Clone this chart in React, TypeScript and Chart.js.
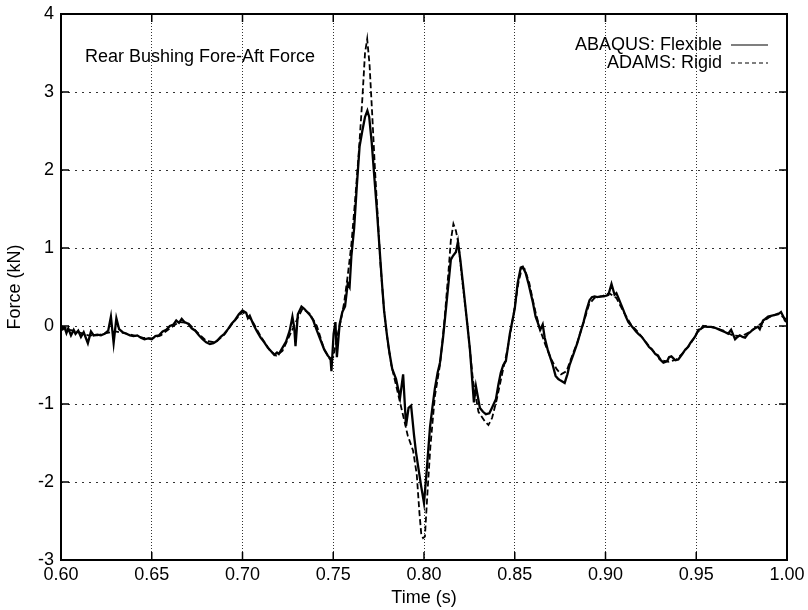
import React, { useEffect, useRef } from "react";
import { Chart, registerables } from "chart.js";

Chart.register(...registerables);

const FONT = '"Liberation Sans", Arial, Helvetica, sans-serif';

const chartTitle = "Rear Bushing Fore-Aft Force";
const seriesLabels = ["ABAQUS: Flexible", "ADAMS: Rigid"];
const xAxisTitle = "Time (s)";
const yAxisTitle = "Force (kN)";

const xTickValues = [0.6, 0.65, 0.7, 0.75, 0.8, 0.85, 0.9, 0.95, 1.0];
const xTickLabels = ["0.60", "0.65", "0.70", "0.75", "0.80", "0.85", "0.90", "0.95", "1.00"];
const yTickValues = [-3, -2, -1, 0, 1, 2, 3, 4];
const yTickLabels = ["-3", "-2", "-1", "0", "1", "2", "3", "4"];

const abaqusTime = [
  0.6, 0.601, 0.602, 0.603, 0.604, 0.6055, 0.607, 0.608, 0.6095, 0.611, 0.6125, 0.6148, 0.6165, 0.618, 0.62,
  0.622, 0.624, 0.626, 0.6275, 0.629, 0.6305, 0.632, 0.634, 0.636, 0.638, 0.64, 0.642, 0.644, 0.646, 0.648,
  0.65, 0.652, 0.654, 0.656, 0.658, 0.66, 0.662, 0.6635, 0.665, 0.6665, 0.668, 0.67, 0.672, 0.674, 0.676,
  0.678, 0.68, 0.682, 0.684, 0.686, 0.688, 0.69, 0.692, 0.694, 0.696, 0.698, 0.7, 0.702, 0.703, 0.704,
  0.706, 0.708, 0.71, 0.712, 0.714, 0.716, 0.7175, 0.719, 0.72, 0.722, 0.724, 0.726, 0.7275, 0.7285, 0.7292,
  0.7305, 0.7325, 0.734, 0.736, 0.7375, 0.739, 0.741, 0.743, 0.745, 0.747, 0.7485, 0.749, 0.7502, 0.7512, 0.752,
  0.7535, 0.755, 0.7565, 0.758, 0.759, 0.76, 0.7615, 0.763, 0.7645, 0.766, 0.7675, 0.7688, 0.7698, 0.7712, 0.7725,
  0.774, 0.7755, 0.777, 0.778, 0.7795, 0.781, 0.7825, 0.7846, 0.7868, 0.7885, 0.7901, 0.7915, 0.7929, 0.7945, 0.7956,
  0.7984, 0.8, 0.8015, 0.8033, 0.8046, 0.806, 0.8075, 0.8088, 0.8105, 0.8121, 0.8135, 0.8148, 0.816, 0.8176, 0.8187,
  0.82, 0.8214, 0.8235, 0.8253, 0.8275, 0.8286, 0.8308, 0.8325, 0.8341, 0.836, 0.8374, 0.8396, 0.841, 0.8423, 0.8437,
  0.8451, 0.8473, 0.85, 0.8516, 0.8533, 0.8544, 0.856, 0.8575, 0.8588, 0.86, 0.8615, 0.8626, 0.864, 0.8654, 0.8665,
  0.8681, 0.8695, 0.8709, 0.8725, 0.874, 0.8753, 0.8775, 0.879, 0.8802, 0.8825, 0.8846, 0.8862, 0.8879, 0.8895, 0.8912,
  0.8925, 0.894, 0.8955, 0.8973, 0.899, 0.9005, 0.9016, 0.9033, 0.905, 0.906, 0.9071, 0.9085, 0.9099, 0.9112, 0.9126,
  0.914, 0.9154, 0.9168, 0.9181, 0.92, 0.9225, 0.924, 0.9255, 0.9275, 0.929, 0.9297, 0.9319, 0.933, 0.934, 0.935,
  0.9363, 0.9385, 0.9401, 0.9423, 0.944, 0.9455, 0.9467, 0.948, 0.9495, 0.9511, 0.9525, 0.9538, 0.956, 0.9582, 0.96,
  0.9621, 0.964, 0.966, 0.9676, 0.9692, 0.9714, 0.9727, 0.974, 0.9755, 0.9769, 0.9785, 0.9797, 0.981, 0.9824, 0.984,
  0.985, 0.9868, 0.988, 0.9896, 0.9912, 0.9929, 0.9951, 0.9967, 0.998, 0.9989, 1.0,
];
const abaqusForce = [
  0.0, -0.04, -0.02, -0.09, -0.03, -0.12, -0.05, -0.1, -0.06, -0.14, -0.08, -0.22, -0.07, -0.12, -0.11,
  -0.12, -0.1, -0.06, 0.12, -0.22, 0.1, -0.04, -0.08, -0.1, -0.12, -0.13, -0.12, -0.15, -0.17, -0.16,
  -0.17, -0.13, -0.12, -0.07, -0.05, 0.0, 0.02, 0.07, 0.04, 0.09, 0.05, 0.03, -0.03, -0.06, -0.12,
  -0.17, -0.21, -0.23, -0.22, -0.19, -0.14, -0.1, -0.04, 0.03, 0.08, 0.15, 0.2, 0.17, 0.1, 0.13,
  0.02, -0.07, -0.15, -0.21, -0.28, -0.33, -0.37, -0.34, -0.36, -0.28, -0.2, -0.06, 0.12, -0.02, -0.26,
  0.15, 0.25, 0.22, 0.17, 0.13, 0.07, -0.06, -0.18, -0.3, -0.38, -0.42, -0.58, -0.1, 0.05, -0.4,
  0.02, 0.18, 0.25, 0.55, 0.5, 0.9, 1.25, 1.8, 2.3, 2.5, 2.68, 2.76, 2.68, 2.35, 1.95,
  1.5, 1.0, 0.5, 0.2, -0.1, -0.35, -0.55, -0.68, -0.92, -0.62, -1.28, -1.05, -1.02, -1.4, -1.62,
  -2.05, -2.27, -1.85, -1.3, -1.05, -0.8, -0.6, -0.47, -0.15, 0.22, 0.55, 0.85, 0.9, 0.95, 1.08,
  0.85, 0.56, 0.1, -0.3, -0.98, -0.77, -1.05, -1.1, -1.13, -1.12, -1.05, -0.94, -0.75, -0.6, -0.5,
  -0.45, -0.1, 0.22, 0.55, 0.75, 0.76, 0.68, 0.55, 0.42, 0.3, 0.12, 0.05, -0.05, 0.02, -0.15,
  -0.3, -0.4, -0.5, -0.64, -0.68, -0.7, -0.73, -0.62, -0.5, -0.35, -0.21, -0.08, 0.05, 0.2, 0.33,
  0.37, 0.38, 0.37, 0.38, 0.38, 0.39, 0.4, 0.54, 0.4, 0.42, 0.36, 0.28, 0.2, 0.12, 0.05,
  0.01, -0.03, -0.07, -0.1, -0.14, -0.22, -0.27, -0.3, -0.36, -0.38, -0.42, -0.47, -0.46, -0.45, -0.4,
  -0.39, -0.44, -0.43, -0.36, -0.3, -0.27, -0.22, -0.18, -0.13, -0.05, -0.04, 0.0, -0.01, -0.01, -0.02,
  -0.04, -0.06, -0.08, -0.1, -0.05, -0.17, -0.14, -0.12, -0.14, -0.15, -0.1, -0.08, -0.05, -0.03, -0.01,
  -0.04, 0.07, 0.09, 0.12, 0.13, 0.14, 0.15, 0.18, 0.12, 0.07, 0.05,
];

const adamsTime = [
  0.6, 0.605, 0.61, 0.615, 0.62, 0.625, 0.63, 0.635, 0.64, 0.645, 0.65, 0.655, 0.66, 0.665, 0.67,
  0.675, 0.68, 0.685, 0.69, 0.695, 0.7, 0.705, 0.71, 0.715, 0.7185, 0.722, 0.726, 0.73, 0.733, 0.737,
  0.741, 0.745, 0.748, 0.75, 0.752, 0.754, 0.756, 0.758, 0.76, 0.762, 0.764, 0.766, 0.7675, 0.7687, 0.77,
  0.7715, 0.773, 0.7745, 0.776, 0.778, 0.78, 0.782, 0.785, 0.788, 0.791, 0.794, 0.796, 0.7975, 0.7985, 0.7995,
  0.8005, 0.802, 0.8035, 0.806, 0.8088, 0.811, 0.8135, 0.8148, 0.8162, 0.8176, 0.819, 0.821, 0.824, 0.827, 0.83,
  0.8335, 0.8355, 0.8375, 0.84, 0.843, 0.846, 0.849, 0.852, 0.854, 0.8555, 0.858, 0.861, 0.864, 0.867, 0.87,
  0.873, 0.8755, 0.8785, 0.881, 0.8846, 0.888, 0.891, 0.894, 0.898, 0.902, 0.906, 0.91, 0.914, 0.918, 0.922,
  0.927, 0.931, 0.935, 0.939, 0.943, 0.947, 0.951, 0.955, 0.96, 0.965, 0.97, 0.975, 0.98, 0.985, 0.99,
  0.995, 1.0,
];
const adamsForce = [
  0.0, -0.05, -0.08, -0.12, -0.12, -0.09, -0.07, -0.09, -0.12, -0.15, -0.16, -0.12, -0.03, 0.05, 0.04,
  -0.08, -0.19, -0.21, -0.11, 0.05, 0.18, 0.08, -0.13, -0.31, -0.38, -0.32, -0.12, 0.08, 0.22, 0.16,
  0.0, -0.3, -0.42, -0.4, -0.15, 0.05, 0.3, 0.65, 1.05, 1.6, 2.2, 2.9, 3.5, 3.68, 3.35,
  2.7, 2.0, 1.4, 0.8, 0.2, -0.2, -0.5, -0.8, -1.1, -1.4, -1.6, -1.9, -2.4, -2.67, -2.72,
  -2.7, -2.1, -1.55, -0.9, -0.5, 0.0, 0.7, 1.1, 1.31, 1.22, 1.05, 0.6, 0.0, -0.7, -1.1,
  -1.22, -1.27, -1.18, -0.95, -0.62, -0.3, 0.1, 0.55, 0.75, 0.73, 0.55, 0.22, -0.05, -0.25, -0.42,
  -0.55, -0.62, -0.58, -0.42, -0.2, 0.05, 0.28, 0.36, 0.38, 0.42, 0.36, 0.18, 0.02, -0.08, -0.2,
  -0.34, -0.44, -0.46, -0.43, -0.34, -0.22, -0.07, 0.0, -0.02, -0.06, -0.12, -0.13, -0.07, 0.02, 0.11,
  0.16, 0.08,
];

const framePlugin = {
  id: "frameAndLegend",
  afterDatasetsDraw(chart: any) {
    const { ctx, chartArea: a, scales } = chart;
    ctx.save();
    ctx.setLineDash([]);
    ctx.strokeStyle = "#000";
    ctx.lineWidth = 2;
    ctx.strokeRect(a.left, a.top, a.right - a.left, a.bottom - a.top);
    ctx.lineWidth = 1.5;
    const tl = 8;
    ctx.beginPath();
    xTickValues.forEach((v) => {
      const px = scales.x.getPixelForValue(v);
      ctx.moveTo(px, a.bottom);
      ctx.lineTo(px, a.bottom - tl);
      ctx.moveTo(px, a.top);
      ctx.lineTo(px, a.top + tl);
    });
    yTickValues.forEach((v) => {
      const py = scales.y.getPixelForValue(v);
      ctx.moveTo(a.left, py);
      ctx.lineTo(a.left + tl, py);
      ctx.moveTo(a.right, py);
      ctx.lineTo(a.right - tl, py);
    });
    ctx.stroke();

    ctx.font = `18px ${FONT}`;
    ctx.fillStyle = "#000";
    ctx.textAlign = "left";
    ctx.textBaseline = "middle";
    ctx.fillText(chartTitle, a.left + 24, a.top + 43);

    chart.data.datasets.forEach((ds: any, i: number) => {
      const y = a.top + 31 + i * 18;
      ctx.textAlign = "right";
      ctx.fillText(ds.label, a.right - 65, y);
      ctx.beginPath();
      ctx.setLineDash(i === 0 ? [] : [4, 3]);
      ctx.lineWidth = 1.2;
      ctx.moveTo(a.right - 56, y);
      ctx.lineTo(a.right - 19, y);
      ctx.stroke();
    });
    ctx.restore();
  },
};

export default function App() {
  const ref = useRef<HTMLCanvasElement>(null);
  useEffect(() => {
    if (!ref.current) return;
    Chart.defaults.font.family = FONT;
    Chart.defaults.font.size = 18;
    Chart.defaults.color = "#000";
    const chart = new Chart(ref.current, {
      type: "line",
      data: {
        datasets: [
          {
            label: seriesLabels[0],
            data: abaqusTime.map((t, i) => ({ x: t, y: abaqusForce[i] })),
            borderColor: "#000",
            borderWidth: 2.3,
            pointRadius: 0,
            fill: false,
            tension: 0,
          },
          {
            label: seriesLabels[1],
            data: adamsTime.map((t, i) => ({ x: t, y: adamsForce[i] })),
            borderColor: "#000",
            borderWidth: 1.8,
            borderDash: [6, 3],
            pointRadius: 0,
            fill: false,
            tension: 0,
          },
        ],
      },
      options: {
        responsive: false,
        animation: false,
        layout: { padding: { left: 0, right: 21, top: 14, bottom: 0 } },
        plugins: { legend: { display: false }, tooltip: { enabled: false } },
        scales: {
          x: {
            type: "linear",
            min: 0.6,
            max: 1.0,
            afterBuildTicks: (s: any) => {
              s.ticks = xTickValues.map((v) => ({ value: v }));
            },
            afterFit: (s: any) => {
              s.height = 50;
              s.paddingLeft = 0;
              s.paddingRight = 0;
            },
            ticks: {
              autoSkip: false,
              maxRotation: 0,
              padding: 4,
              color: "#000",
              font: { size: 18, family: FONT },
              callback: (_v: any, i: number) => xTickLabels[i],
            },
            grid: { color: "rgba(0,0,0,0.8)", lineWidth: 1, drawTicks: false },
            border: { display: false, dash: [1, 2] },
            title: {
              display: true,
              text: xAxisTitle,
              color: "#000",
              font: { size: 18, family: FONT },
              padding: { top: 0, bottom: 1 },
            },
          },
          y: {
            type: "linear",
            min: -3,
            max: 4,
            afterBuildTicks: (s: any) => {
              s.ticks = yTickValues.map((v) => ({ value: v }));
            },
            afterFit: (s: any) => {
              s.width = 61;
              s.paddingTop = 0;
              s.paddingBottom = 0;
            },
            ticks: {
              autoSkip: false,
              padding: 7,
              color: "#000",
              font: { size: 18, family: FONT },
              callback: (_v: any, i: number) => yTickLabels[i],
            },
            grid: { color: "rgba(0,0,0,0.8)", lineWidth: 1, drawTicks: false },
            border: { display: false, dash: [2, 5] },
            title: {
              display: true,
              text: yAxisTitle,
              color: "#000",
              font: { size: 18, family: FONT },
              padding: { top: 4, bottom: 4 },
            },
          },
        },
      },
      plugins: [framePlugin],
    } as any);
    return () => chart.destroy();
  }, []);
  return (
    <div style={{ position: "absolute", left: 0, top: 0, width: 808, height: 610, background: "#fff" }}>
      <canvas ref={ref} width={808} height={610} style={{ display: "block" }} />
    </div>
  );
}
